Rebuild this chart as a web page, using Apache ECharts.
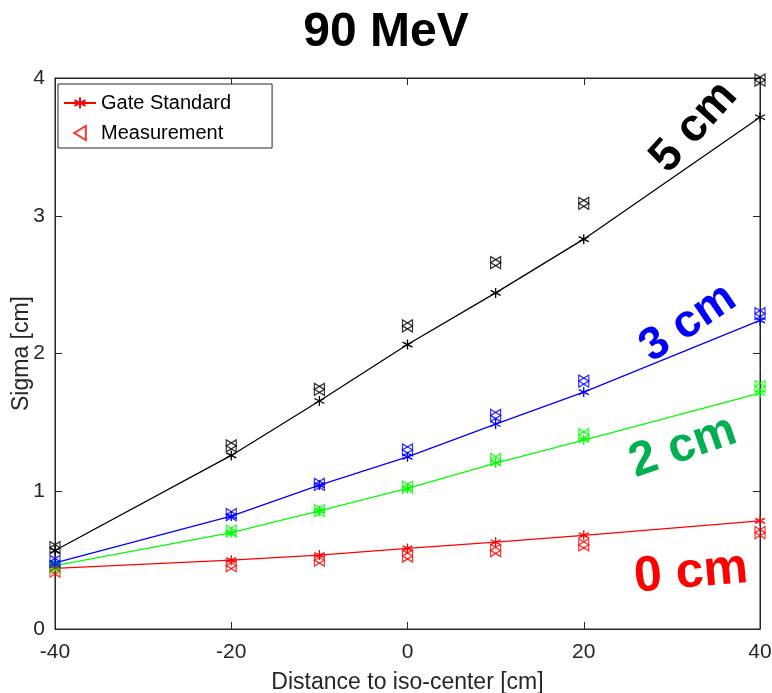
<!DOCTYPE html>
<html><head><meta charset="utf-8">
<script src="https://cdn.jsdelivr.net/npm/echarts@6/dist/echarts.min.js"></script>
<style>html,body{margin:0;padding:0;background:#fff}#c{width:772px;height:693px}</style>
</head><body><div id="c"></div>
<script>
const distances = [-40, -20, -10, 0, 10, 20, 40];
const gate5 = [0.57, 1.26, 1.655, 2.065, 2.44, 2.83, 3.715];
const meas5 = [0.59, 1.33, 1.74, 2.20, 2.66, 3.09, 3.985];
const gate3 = [0.48, 0.82, 1.045, 1.25, 1.488, 1.72, 2.24];
const meas3 = [0.49, 0.83, 1.05, 1.30, 1.55, 1.80, 2.29];
const gate2 = [0.46, 0.70, 0.857, 1.02, 1.205, 1.372, 1.713];
const meas2 = [0.45, 0.71, 0.86, 1.03, 1.23, 1.41, 1.76];
const gate0 = [0.44, 0.50, 0.537, 0.585, 0.63, 0.68, 0.785];
const meas0 = [0.42, 0.46, 0.50, 0.53, 0.57, 0.61, 0.70];
const xTicks = [-40, -20, 0, 20, 40];
const yTicks = [0, 1, 2, 3, 4];

const AST = 'path://M0,-5L0,5M-4.33,-2.5L4.33,2.5M-4.33,2.5L4.33,-2.5';
const TRI = 'path://M0,0L10,-6L10,6Z';
const pair = (a) => distances.map((d, i) => [d, a[i]]);
const font = 'Liberation Sans, Arial, Helvetica, sans-serif';

function gateSeries(name, color, data) {
  return {type: 'line', name, data: pair(data), symbol: AST, symbolSize: 10,
    lineStyle: {color, width: 1.3}, itemStyle: {color: 'none', borderColor: color, borderWidth: 1.3},
    z: 3};
}
function measSeries(name, color, data, rot) {
  return {type: 'scatter', name, data: pair(data), symbol: TRI, symbolSize: [10, 12], symbolRotate: rot,
    itemStyle: {color: 'none', borderColor: color, borderWidth: 1.3}, z: 4};
}

const chart = echarts.init(document.getElementById('c'));
const axisColor = '#262626';
const noZero = {onZero: false, lineStyle: {color: axisColor}};
chart.setOption({
  animation: false,
  textStyle: {fontFamily: font},
  title: {text: '90 MeV', left: 'center', top: 4,
    textStyle: {fontSize: 48, fontWeight: 'bold', color: '#000', fontFamily: font}},
  grid: {left: 55, right: 12, top: 78, bottom: 64, containLabel: false, outerBoundsMode: 'none',
    show: true, borderColor: axisColor, borderWidth: 1},
  legend: {
    left: 58, top: 84, orient: 'vertical', itemGap: 10, itemWidth: 32, itemHeight: 14,
    padding: [9, 41, 5, 5], borderColor: axisColor, borderWidth: 1, backgroundColor: '#fff',
    textStyle: {fontSize: 20, lineHeight: 20, color: '#000', fontFamily: font},
    data: ['Gate Standard', 'Measurement']
  },
  xAxis: [{
    type: 'value', min: -40, max: 40, interval: 20,
    name: 'Distance to iso-center [cm]', nameLocation: 'middle', nameGap: 42,
    nameTextStyle: {fontSize: 23, color: axisColor},
    axisLine: noZero,
    axisTick: {inside: true, length: 7, lineStyle: {color: axisColor}},
    axisLabel: {fontSize: 21, color: axisColor, margin: 13, formatter: v => xTicks.includes(v) ? String(v) : ''},
    splitLine: {show: false}
  }, {
    type: 'value', min: -40, max: 40, interval: 20, position: 'top',
    axisLine: noZero,
    axisTick: {inside: true, length: 7, lineStyle: {color: axisColor}},
    axisLabel: {show: false}, splitLine: {show: false}
  }],
  yAxis: [{
    type: 'value', min: 0, max: 4, interval: 1,
    name: 'Sigma [cm]', nameLocation: 'middle', nameGap: 22, nameMoveOverlap: false,
    nameTextStyle: {fontSize: 23, color: axisColor},
    axisLine: Object.assign({show: true}, noZero),
    axisTick: {show: true, inside: true, length: 7, lineStyle: {color: axisColor}},
    axisLabel: {fontSize: 21, color: axisColor, margin: 10, formatter: v => yTicks.includes(v) ? String(v) : ''},
    splitLine: {show: false}
  }, {
    type: 'value', min: 0, max: 4, interval: 1, position: 'right',
    axisLine: Object.assign({show: true}, noZero),
    axisTick: {show: true, inside: true, length: 7, lineStyle: {color: axisColor}},
    axisLabel: {show: false}, splitLine: {show: false}
  }],
  series: [
    gateSeries('Gate Standard', '#ff0000', gate0),
    measSeries('Measurement', '#ff0000', meas0, 0),
    measSeries('m0b', '#ff0000', meas0, 180),
    gateSeries('g2', '#00ff00', gate2),
    measSeries('m2a', '#00ff00', meas2, 0),
    measSeries('m2b', '#00ff00', meas2, 180),
    gateSeries('g3', '#0000ff', gate3),
    measSeries('m3a', '#0000ff', meas3, 0),
    measSeries('m3b', '#0000ff', meas3, 180),
    gateSeries('g5', '#000000', gate5),
    measSeries('m5a', '#000000', meas5, 0),
    measSeries('m5b', '#000000', meas5, 180)
  ],
  graphic: [
    {type: 'text', x: 694, y: 127, rotation: 48 * Math.PI / 180,
      style: {text: '5 cm', font: 'bold 46px ' + font, fill: '#000', align: 'center', verticalAlign: 'middle'}},
    {type: 'text', x: 688, y: 323, rotation: 34 * Math.PI / 180,
      style: {text: '3 cm', font: 'bold 46px ' + font, fill: '#0000ff', align: 'center', verticalAlign: 'middle'}},
    {type: 'text', x: 683, y: 447, rotation: 19 * Math.PI / 180,
      style: {text: '2 cm', font: 'bold 48px ' + font, fill: '#00b050', align: 'center', verticalAlign: 'middle'}},
    {type: 'text', x: 691, y: 573, rotation: 5 * Math.PI / 180,
      style: {text: '0 cm', font: 'bold 50px ' + font, fill: '#ff0000', align: 'center', verticalAlign: 'middle'}}
  ]
});
</script></body></html>
